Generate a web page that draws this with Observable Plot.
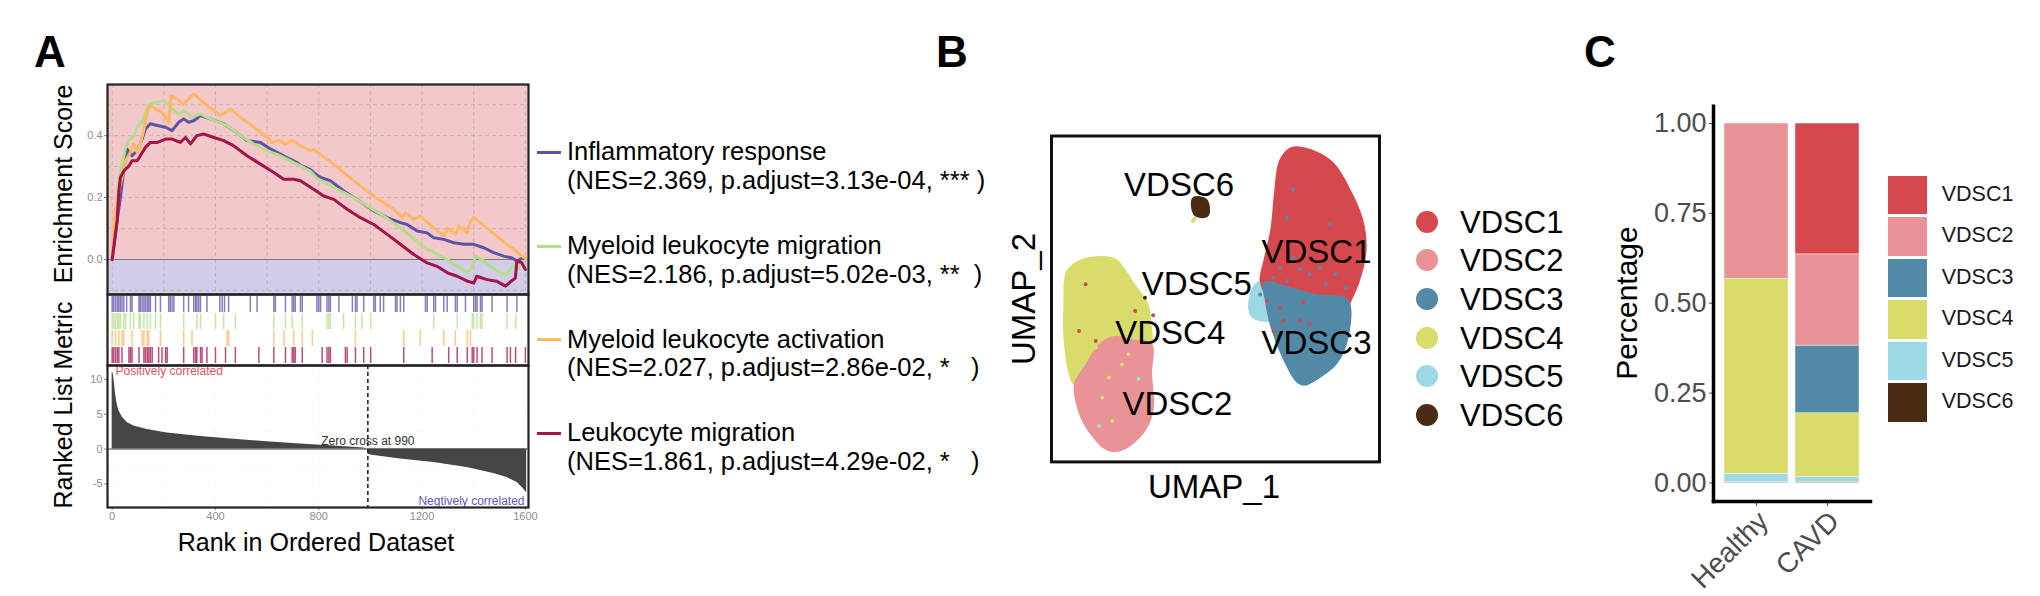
<!DOCTYPE html>
<html>
<head>
<meta charset="utf-8">
<script src="https://cdn.jsdelivr.net/npm/d3@7"></script>
<script src="https://cdn.jsdelivr.net/npm/@observablehq/plot@0.6"></script>
<style>
  html, body { margin: 0; padding: 0; background: #fff; }
  #fig { position: relative; width: 2040px; height: 596px; overflow: hidden; background: #fff;
         font-family: "Liberation Sans", Arial, Helvetica, sans-serif; color: #000; }
  #fig svg { display: block; }
</style>
</head>
<body>
<div id="fig"></div>
<script>
// ================= Panel A : GSEA =================
const pathways = ["Inflammatory response", "Myeloid leukocyte migration", "Myeloid leukocyte activation", "Leukocyte migration"];
const pathwayStats = [
  "(NES=2.369, p.adjust=3.13e-04, *** )",
  "(NES=2.186, p.adjust=5.02e-03, **  )",
  "(NES=2.027, p.adjust=2.86e-02, *   )",
  "(NES=1.861, p.adjust=4.29e-02, *   )"
];
const pathwayColors = ["#5E52A8", "#B3DE8C", "#FDB866", "#A3134C"];

// running enrichment score: [rank, ES]
const esInflammatory = [[0,0],[13,0.081],[19,0.124],[32,0.2],[45,0.29],[58,0.356],[77,0.335],[97,0.351],[109,0.373],[129,0.421],[148,0.438],[180,0.432],[207,0.427],[232,0.416],[258,0.443],[277,0.454],[296,0.443],[316,0.448],[342,0.465],[380,0.454],[432,0.438],[471,0.416],[522,0.384],[574,0.378],[613,0.357],[664,0.335],[716,0.313],[729,0.305],[768,0.29],[780,0.281],[807,0.265],[846,0.254],[897,0.221],[948,0.194],[1013,0.157],[1065,0.135],[1116,0.119],[1142,0.113],[1181,0.092],[1220,0.086],[1245,0.070],[1284,0.065],[1323,0.054],[1362,0.049],[1400,0.049],[1439,0.038],[1477,0.022],[1516,0.011],[1548,0.005],[1567,-0.005],[1590,0.005],[1605,0.0]];
const esMyeloidMigration = [[0,0],[13,0.146],[26,0.254],[38,0.308],[52,0.362],[65,0.384],[84,0.4],[97,0.427],[116,0.443],[136,0.492],[148,0.502],[175,0.508],[200,0.513],[213,0.502],[232,0.486],[258,0.47],[277,0.481],[310,0.459],[342,0.47],[380,0.454],[445,0.432],[497,0.4],[549,0.373],[600,0.351],[652,0.335],[703,0.313],[729,0.302],[768,0.285],[793,0.262],[858,0.232],[924,0.205],[988,0.173],[1052,0.14],[1116,0.102],[1181,0.059],[1220,0.032],[1239,0.027],[1271,0.011],[1298,0.0],[1323,-0.016],[1349,-0.027],[1375,-0.043],[1393,-0.027],[1407,0.011],[1432,0.0],[1464,-0.022],[1503,-0.043],[1527,-0.049],[1554,-0.016],[1567,-0.032],[1590,-0.01],[1605,0.0]];
const esMyeloidActivation = [[0,0],[9,0.135],[26,0.221],[38,0.265],[52,0.319],[71,0.346],[84,0.373],[97,0.346],[109,0.373],[122,0.416],[136,0.475],[145,0.497],[168,0.486],[193,0.475],[219,0.443],[228,0.529],[251,0.518],[277,0.5],[292,0.515],[316,0.535],[367,0.497],[419,0.465],[438,0.475],[458,0.486],[497,0.459],[549,0.427],[600,0.394],[620,0.378],[645,0.385],[671,0.373],[697,0.385],[729,0.367],[768,0.351],[780,0.356],[858,0.308],[935,0.254],[1013,0.205],[1090,0.162],[1122,0.135],[1136,0.151],[1168,0.129],[1193,0.14],[1245,0.102],[1284,0.076],[1298,0.102],[1330,0.081],[1342,0.108],[1375,0.086],[1387,0.124],[1400,0.135],[1500,0.068],[1600,0.003],[1610,0.0]];
const esLeukocyteMigration = [[0,0],[9,0.059],[19,0.124],[26,0.221],[32,0.265],[45,0.286],[65,0.302],[77,0.319],[97,0.319],[109,0.335],[129,0.362],[148,0.378],[175,0.378],[207,0.389],[232,0.389],[264,0.378],[284,0.394],[303,0.373],[328,0.4],[355,0.405],[394,0.394],[432,0.384],[471,0.367],[522,0.335],[574,0.308],[626,0.281],[664,0.259],[703,0.259],[729,0.254],[780,0.227],[819,0.205],[858,0.194],[910,0.162],[961,0.135],[1013,0.113],[1065,0.081],[1116,0.049],[1168,0.016],[1220,-0.011],[1258,-0.022],[1298,-0.043],[1336,-0.054],[1375,-0.07],[1400,-0.076],[1412,-0.054],[1451,-0.065],[1488,-0.07],[1523,-0.086],[1545,-0.07],[1561,-0.06],[1567,-0.005],[1585,-0.01],[1600,-0.032]];

// gene-set hit positions (rank)
const hitsInflammatory = [0,6,13,20,26,32,38,45,56,71,77,104,109,116,123,129,136,142,148,168,187,219,225,232,239,277,296,316,323,328,335,342,367,417,426,435,451,535,561,626,632,671,697,703,709,729,736,793,800,807,832,839,845,878,930,942,948,974,1013,1019,1038,1051,1097,1103,1116,1129,1213,1220,1245,1252,1284,1297,1329,1336,1368,1400,1407,1413,1426,1432,1471,1529,1567];
const hitsMyeloidMigration = [0,6,13,20,26,32,45,52,71,84,104,109,123,136,148,168,187,277,328,342,400,432,477,626,671,697,736,832,839,845,896,942,967,1001,1245,1336,1394,1400,1413,1426,1432,1529,1563];
const hitsMyeloidActivation = [0,13,26,38,45,77,116,123,136,142,187,277,309,445,451,626,665,703,736,775,942,1129,1193,1284,1329,1375,1387];
const hitsLeukocyteMigration = [0,6,13,20,26,38,65,71,77,104,123,129,136,142,148,155,180,193,207,213,277,316,323,328,342,348,367,400,439,477,568,626,671,697,703,709,736,813,832,839,845,903,910,942,974,1001,1129,1239,1303,1336,1375,1394,1400,1413,1432,1471,1529,1542,1562,1600];

// ranked list metric: [rank, value]
const rankedMetric = [[0,11.0],[4,10.9],[9,9.4],[13,7.9],[19,6.5],[26,5.5],[39,4.6],[58,3.8],[84,3.3],[135,2.8],[213,2.3],[342,1.8],[471,1.4],[600,1.05],[729,0.72],[858,0.43],[974,0.14],[990,0.02],[991,-0.7],[1000,-0.85],[1116,-1.45],[1245,-1.93],[1374,-2.65],[1477,-3.51],[1529,-4.09],[1568,-4.81],[1590,-5.6],[1605,-6.3]];
const zeroCross = 990;

const rankTicks = [0, 400, 800, 1200, 1600];
const rankGrid = [0, 200, 400, 600, 800, 1000, 1200, 1400, 1600];
const esTicks = [0, 0.2, 0.4];
const esGrid = [-0.1, 0, 0.1, 0.2, 0.3, 0.4, 0.5];
const metricTicks = [-5, 0, 5, 10];
const metricGrid = [-7.5, -5, -2.5, 2.5, 5, 7.5, 10];

// ================= Panel B : UMAP =================
const clusterNames = ["VDSC1", "VDSC2", "VDSC3", "VDSC4", "VDSC5", "VDSC6"];
const clusterColors = ["#D5494E", "#E99397", "#5289A6", "#D8DC6A", "#9DD9E4", "#4A2C12"];
const outlineVDSC1 = [[73.7,96.3],[84.6,92.5],[91.2,82.5],[95.0,72.5],[95.5,63.7],[93.3,54.8],[90.1,47.1],[88.5,40.0],[74.7,41.7],[65.0,52.5],[63.9,55.9],[65.0,61.5],[67.2,71.4],[68.3,82.5],[69.9,92.5]];
const outlineVDSC2 = [[7.3,23.8],[8.4,16.1],[11.7,9.4],[17.1,3.9],[21.5,3.9],[28.0,9.4],[30.7,16.1],[30.2,27.1],[30.2,36.0],[24.7,37.1],[19.3,38.2],[14.9,36.0],[10.6,29.4]];
const outlineVDSC3 = [[65.0,54.8],[71.5,53.5],[80.5,51.0],[90.1,49.5],[90.1,38.2],[86.8,30.5],[81.4,26.0],[77.0,23.8],[74.8,24.9],[70.5,32.7],[67.2,41.5],[65.5,49.5]];
const outlineVDSC4 = [[8.5,61.5],[12.8,62.6],[19.3,62.0],[24.7,54.8],[29.1,48.2],[30.2,40.4],[30.2,34.9],[26.5,31.0],[7.3,23.8],[5.7,27.1],[4.1,38.2],[4.1,49.3],[4.8,58.1]];
const outlineVDSC5 = [[62.8,54.8],[68.3,55.9],[69.4,50.4],[67.2,43.7],[61.2,44.8],[60.5,49.3]];
const outlineVDSC6 = [[43.3,80.8],[47.1,80.3],[47.6,75.9],[45.4,75.3],[43.5,76.4]];
const labelU = [80.8, 38.4, 80.8, 36.2, 44.3, 38.9];
const labelV = [64.2, 17.7, 36.5, 39.5, 54.3, 84.7];
// scattered cells lying inside other clusters: [u, v, cluster]
const strayCells = [
  [73.7,83.6,"VDSC3"],[71.7,74.9,"VDSC3"],[84.7,72.9,"VDSC3"],[73.7,62.7,"VDSC3"],[69.7,59.6,"VDSC3"],[75.7,59.1,"VDSC3"],[78.7,57.6,"VDSC3"],[81.7,59.6,"VDSC3"],[86.7,57.6,"VDSC3"],[67.7,56.5,"VDSC3"],[71.7,55.5,"VDSC3"],[83.7,54.5,"VDSC3"],[89.8,53.5,"VDSC3"],[65.7,53.5,"VDSC3"],[63.6,51.4,"VDSC3"],
  [65.7,49.4,"VDSC1"],[69.7,47.4,"VDSC1"],[76.7,48.9,"VDSC1"],[70.7,43.3,"VDSC1"],[75.7,43.3,"VDSC1"],[78.7,42.2,"VDSC1"],[67.7,40.2,"VDSC1"],
  [10.4,33.0,"VDSC4"],[17.5,25.9,"VDSC4"],[18.5,12.6,"VDSC4"],[15.5,19.7,"VDSC4"],[23.5,33.0,"VDSC4"],[21.5,30.0,"VDSC4"],[13.5,35.1,"VDSC4"],
  [13.5,37.1,"VDSC1"],[8.4,40.2,"VDSC1"],[31.0,45.0,"VDSC1"],[10.4,54.5,"VDSC1"],[25.5,46.3,"VDSC1"],
  [26.5,25.4,"VDSC5"],[14.5,11.0,"VDSC5"],
  [43.1,73.9,"VDSC4"],[43.6,74.6,"VDSC4"],[28.5,50.4,"VDSC6"]
];

// ================= Panel C : proportions =================
const groups = ["Healthy", "CAVD"];
const healthyShare = [0, 0.432, 0, 0.543, 0.023, 0.002];
const cavdShare = [0.364, 0.254, 0.188, 0.178, 0.013, 0.003];
const shareTicks = [0, 0.25, 0.5, 0.75, 1];

// ================= helpers =================
const fig = document.getElementById("fig");
const FONT = "'Liberation Sans', Arial, Helvetica, sans-serif";
const baseStyle = {background: "transparent", overflow: "visible", fontFamily: FONT};

function place(node, left, top, w, h) {
  const wrap = document.createElement("div");
  wrap.style.cssText = `position:absolute;left:${left}px;top:${top}px;width:${w}px;height:${h}px;`;
  wrap.appendChild(node);
  fig.appendChild(wrap);
}
function addText(txt, x, y, {size = 25, anchor = "middle", rotate = 0, weight = "normal", color = "#000"} = {}) {
  const d = document.createElement("div");
  d.textContent = txt;
  d.style.cssText = `position:absolute;left:${x}px;top:${y}px;font-size:${size}px;font-weight:${weight};color:${color};line-height:1;white-space:pre;font-family:${FONT};`;
  const tx = anchor === "middle" ? "-50%" : anchor === "end" ? "-100%" : "0";
  d.style.transform = `translate(${tx},-50%) rotate(${rotate}deg)`;
  fig.appendChild(d);
}
function addBox(x, y, w, h, color, radius = 0) {
  const d = document.createElement("div");
  d.style.cssText = `position:absolute;left:${x}px;top:${y}px;width:${w}px;height:${h}px;background:${color};border-radius:${radius}px;`;
  fig.appendChild(d);
}
const plain = d => String(d);

// ================= Panel A plots =================
const rankDomain = [-18, 1612];
const esDomain = [-0.113, 0.565];
const esSeries = [esInflammatory, esMyeloidMigration, esMyeloidActivation, esLeukocyteMigration];

const esPlot = Plot.plot({
  width: 540, height: 294, marginLeft: 107, marginRight: 12, marginTop: 84, marginBottom: 0,
  style: baseStyle,
  x: {domain: rankDomain, axis: null},
  y: {domain: esDomain},
  marks: [
    Plot.rect([esDomain], {x1: rankDomain[0], x2: rankDomain[1], y1: 0, y2: d => d[1], fill: "#F2C8CB"}),
    Plot.rect([esDomain], {x1: rankDomain[0], x2: rankDomain[1], y1: d => d[0], y2: 0, fill: "#D3CCE8"}),
    Plot.gridX(rankGrid, {stroke: "#9a8a8a", strokeOpacity: 0.35, strokeDasharray: "4,3"}),
    Plot.gridY(esGrid, {stroke: "#9a8a8a", strokeOpacity: 0.35, strokeDasharray: "4,3"}),
    Plot.ruleY([0], {stroke: "#7a7a7a", strokeWidth: 1.2}),
    ...esSeries.map((s, i) => Plot.line(s, {x: d => d[0], y: d => d[1], stroke: pathwayColors[i], strokeWidth: 3})),
    Plot.axisY({ticks: esTicks, tickFormat: d3.format(".1f"), tickSize: 3, tickPadding: 2, fontSize: 11, color: "#8c8c8c", label: null}),
    Plot.frame({stroke: "#222", strokeWidth: 2.2})
  ]
});
place(esPlot, 0, 0, 540, 294);

const hitSets = [hitsInflammatory, hitsMyeloidMigration, hitsMyeloidActivation, hitsLeukocyteMigration];
const hitRows = hitSets.flatMap((arr, i) => arr.map(r => ({pathway: pathways[i], rank: r})));
const rugPlot = Plot.plot({
  width: 540, height: 71, marginLeft: 107, marginRight: 12, marginTop: 0, marginBottom: 0,
  style: baseStyle,
  x: {domain: rankDomain, axis: null},
  y: {type: "band", domain: pathways, axis: null, paddingInner: 0.07, paddingOuter: 0.05},
  color: {domain: pathways, range: pathwayColors},
  marks: [
    Plot.tickX(hitRows, {x: "rank", y: "pathway", stroke: "pathway", strokeWidth: 1.5, strokeOpacity: 0.75}),
    Plot.frame({stroke: "#222", strokeWidth: 2.2})
  ]
});
place(rugPlot, 0, 294, 540, 71);

const metricPlot = Plot.plot({
  width: 540, height: 231, marginLeft: 107, marginRight: 12, marginTop: 0, marginBottom: 89,
  style: baseStyle,
  x: {domain: rankDomain},
  y: {domain: [-8.4, 12.0]},
  marks: [
    Plot.gridX(rankGrid, {stroke: "#cfcfcf", strokeDasharray: "4,3"}),
    Plot.gridY(metricGrid, {stroke: "#cfcfcf", strokeDasharray: "4,3"}),
    Plot.area(rankedMetric, {x1: d => d[0], y1: 0, y2: d => d[1], fill: "#454545"}),
    Plot.ruleY([0], {stroke: "#454545", strokeWidth: 1}),
    Plot.ruleX([zeroCross], {stroke: "#222", strokeWidth: 1.6, strokeDasharray: "4,3"}),
    Plot.text([{rank: zeroCross, value: 0}], {x: "rank", y: "value", text: d => `Zero cross at ${d.rank}`, dy: -8, fontSize: 12, fill: "#333"}),
    Plot.text(["Positively correlated"], {frameAnchor: "top-left", text: d => d, dx: 8, dy: 1, lineAnchor: "top", textAnchor: "start", fontSize: 12, fill: "#E5535B"}),
    Plot.text(["Negtively correlated"], {frameAnchor: "bottom-right", text: d => d, dx: -4, dy: -3, lineAnchor: "bottom", textAnchor: "end", fontSize: 12, fill: "#5E58C2"}),
    Plot.axisX({ticks: rankTicks, tickFormat: plain, tickSize: 3, tickPadding: 2, fontSize: 11, color: "#8c8c8c", label: null}),
    Plot.axisY({ticks: metricTicks, tickFormat: plain, tickSize: 3, tickPadding: 2, fontSize: 11, color: "#8c8c8c", label: null}),
    Plot.frame({stroke: "#222", strokeWidth: 2.2})
  ]
});
place(metricPlot, 0, 365, 540, 231);

addText("A", 34, 52, {size: 44, anchor: "start", weight: "bold"});
addText("Enrichment Score", 63, 184, {size: 25, rotate: -90});
addText("Ranked List Metric", 63, 405, {size: 25, rotate: -90});
addText("Rank in Ordered Dataset", 316, 542, {size: 25});

// legend A
const legendTop = [152, 246, 339.5, 433];
pathways.forEach((p, i) => {
  addBox(537, legendTop[i] - 1.5, 24, 3, pathwayColors[i]);
  addText(p, 567, legendTop[i], {size: 25.5, anchor: "start"});
  addText(pathwayStats[i], 567, legendTop[i] + 28.5, {size: 25.5, anchor: "start"});
});

// ================= Panel B plot =================
const outlines = [outlineVDSC4, outlineVDSC2, outlineVDSC5, outlineVDSC1, outlineVDSC3, outlineVDSC6];
const outlineNames = ["VDSC4", "VDSC2", "VDSC5", "VDSC1", "VDSC3", "VDSC6"];
const colorOf = c => clusterColors[clusterNames.indexOf(c)];
const clusterLabels = clusterNames.map((c, i) => ({name: c, u: labelU[i], v: labelV[i]}));

const umapPlot = Plot.plot({
  width: 400, height: 400, marginLeft: 51, marginRight: 21, marginTop: 35.5, marginBottom: 38.6,
  style: baseStyle,
  x: {domain: [0, 100], axis: null},
  y: {domain: [0, 100], axis: null},
  marks: [
    ...outlines.map((o, i) => Plot.line(o, {x: d => d[0], y: d => d[1], curve: "catmull-rom-closed",
      fill: colorOf(outlineNames[i]), stroke: colorOf(outlineNames[i]), strokeWidth: 3})),
    Plot.dot(strayCells, {x: d => d[0], y: d => d[1], fill: d => colorOf(d[2]), r: 2, stroke: "none"}),
    Plot.text(clusterLabels, {x: "u", y: "v", text: "name", fontSize: 33, fill: "#000"}),
    Plot.frame({stroke: "#111", strokeWidth: 3})
  ]
});
place(umapPlot, 1000, 100, 400, 400);

addText("B", 936, 52, {size: 44, anchor: "start", weight: "bold"});
addText("UMAP_2", 1023, 299, {size: 33, rotate: -90});
addText("UMAP_1", 1214, 486, {size: 33});

// legend B
clusterNames.forEach((c, i) => {
  const cy = 221.5 + i * 38.7;
  addBox(1426.8 - 11, cy - 11, 22, 22, clusterColors[i], 11);
  addText(c, 1460, cy, {size: 31, anchor: "start"});
});

// ================= Panel C plot =================
const shareRows = [];
clusterNames.forEach((c, i) => {
  shareRows.push({group: "Healthy", cluster: c, value: healthyShare[i]});
  shareRows.push({group: "CAVD", cluster: c, value: cavdShare[i]});
});
const stackOrder = clusterNames.slice().reverse();
const barRows = shareRows.filter(d => d.value > 0)
  .sort((a, b) => stackOrder.indexOf(a.cluster) - stackOrder.indexOf(b.cluster));

const propPlot = Plot.plot({
  width: 300, height: 506, marginLeft: 113, marginRight: 30, marginTop: 15.8, marginBottom: 94.9,
  style: baseStyle,
  x: {type: "band", domain: groups, paddingInner: 0.1, paddingOuter: 0.15},
  y: {domain: [-0.052, 1.048]},
  color: {domain: clusterNames, range: clusterColors},
  marks: [
    Plot.barY(barRows, {x: "group", y: "value", fill: "cluster", order: stackOrder, stroke: "#fff", strokeWidth: 0.6, strokeOpacity: 0.7}),
    Plot.axisY({ticks: shareTicks, tickFormat: d3.format(".2f"), tickSize: 4, tickPadding: 3, fontSize: 27, color: "#4d4d4d", label: null}),
    Plot.axisX({tickSize: 5, tickFormat: () => "", color: "#4d4d4d", label: null}),
    Plot.axisX({tickRotate: -45, tickSize: 0, tickPadding: 8, fontSize: 28, color: "#4d4d4d", label: null, dx: 7, dy: 7}),
    Plot.frame({anchor: "left", stroke: "#000", strokeWidth: 3.5}),
    Plot.frame({anchor: "bottom", stroke: "#000", strokeWidth: 3.5})
  ]
});
place(propPlot, 1600, 90, 300, 506);

addText("C", 1584, 52, {size: 44, anchor: "start", weight: "bold"});
addText("Percentage", 1627, 303, {size: 30, rotate: -90});

// legend C
clusterNames.forEach((c, i) => {
  const top = 175.5 + i * 41.5;
  addBox(1888.3, top, 38.4, 38.6, clusterColors[i]);
  addText(c, 1941.7, top + 19.3, {size: 21.5, anchor: "start", color: "#1a1a1a"});
});
</script>
</body>
</html>
